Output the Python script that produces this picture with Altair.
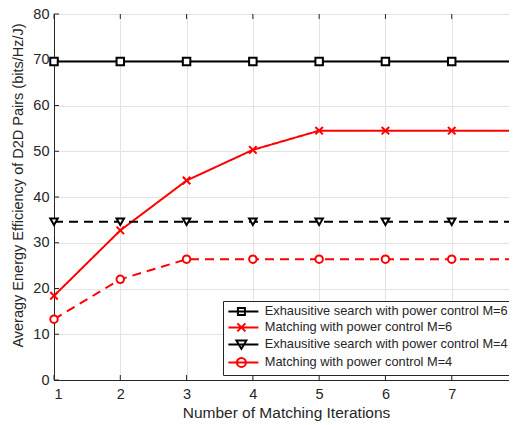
import altair as alt
import pandas as pd

iterations = [1, 2, 3, 4, 5, 6, 7, 8]
exh_m6 = [69.6, 69.6, 69.6, 69.6, 69.6, 69.6, 69.6, 69.6]
match_m6 = [18.4, 32.7, 43.6, 50.3, 54.5, 54.5, 54.5, 54.5]
exh_m4 = [34.6, 34.6, 34.6, 34.6, 34.6, 34.6, 34.6, 34.6]
match_m4 = [13.3, 22.0, 26.4, 26.4, 26.4, 26.4, 26.4, 26.4]

series_names = [
    "Exhausitive search with power control M=6",
    "Matching with power control M=6",
    "Exhausitive search with power control M=4",
    "Matching with power control M=4",
]
series_colors = ["#000000", "#ff0000", "#000000", "#ff0000"]
series_dash = [[1, 0], [1, 0], [9, 6], [9, 6]]

x_ticks = [1, 2, 3, 4, 5, 6, 7, 8]
y_ticks = [0, 10, 20, 30, 40, 50, 60, 70, 80]

rows = []
for name, vals in zip(series_names, [exh_m6, match_m6, exh_m4, match_m4]):
    for xv, yv in zip(iterations, vals):
        rows.append({"x": xv, "y": yv, "series": name})
df = pd.DataFrame(rows)

W, H = 464, 366
FONT = "Liberation Sans"
INK = "#262626"

xs = alt.Scale(domain=[1, 8], nice=False)
ys = alt.Scale(domain=[0, 80], nice=False)

color_scale = alt.Scale(domain=series_names, range=series_colors)

plot_shapes = [
    "square",
    "M-1,-1L1,1M-1,1L1,-1",
    "triangle-down",
    "circle",
]

# legend symbol = short line + marker; units scaled by sqrt(symbolSize)/2 = 5 px
def legend_path(marker):
    return "M-1,0H5" + marker

xm = 1.6
leg_shapes = [
    legend_path(f"M{xm-0.7:.3f},-0.7H{xm+0.7:.3f}V0.7H{xm-0.7:.3f}Z"),
    legend_path(f"M{xm-0.8:.3f},-0.8L{xm+0.8:.3f},0.8M{xm-0.8:.3f},0.8L{xm+0.8:.3f},-0.8"),
    legend_path(f"M{xm-1.0:.3f},-0.8L{xm+1.0:.3f},-0.8L{xm:.3f},0.9Z"),
    legend_path(f"M{xm-0.9:.3f},0A0.9,0.9 0 1,0 {xm+0.9:.3f},0A0.9,0.9 0 1,0 {xm-0.9:.3f},0Z"),
]

xaxis = alt.Axis(values=x_ticks, format="d", grid=True, ticks=False,
                 labelPadding=7, title="Number of Matching Iterations",
                 titlePadding=5)
yaxis = alt.Axis(values=y_ticks, grid=True, ticks=False, labelPadding=5,
                 title="Averagy Energy Efficiency of D2D Pairs (bits/Hz/J)",
                 titlePadding=7, titleY=171)

base = alt.Chart(df)

lines = base.mark_line(strokeWidth=2).encode(
    x=alt.X("x:Q", scale=xs, axis=xaxis),
    y=alt.Y("y:Q", scale=ys, axis=yaxis),
    color=alt.Color("series:N", scale=color_scale, legend=None),
    strokeDash=alt.StrokeDash("series:N",
                              scale=alt.Scale(domain=series_names, range=series_dash),
                              legend=None),
)

points = base.mark_point(filled=False, fill="white", strokeWidth=2, size=56, opacity=1).encode(
    x=alt.X("x:Q", scale=xs),
    y=alt.Y("y:Q", scale=ys),
    color=alt.Color("series:N", scale=color_scale, legend=None),
    shape=alt.Shape("series:N", scale=alt.Scale(domain=series_names, range=plot_shapes),
                    legend=None),
)

legend_layer = base.transform_filter("false").mark_point(
    filled=False, fill="white", strokeWidth=2, opacity=1
).encode(
    color=alt.Color("series:N", scale=alt.Scale(domain=series_names, range=series_colors),
                    legend=alt.Legend(title=None)),
    shape=alt.Shape("series:N", scale=alt.Scale(domain=series_names, range=leg_shapes),
                    legend=alt.Legend(title=None)),
)

xt_df = pd.DataFrame({"x": x_ticks})
yt_df = pd.DataFrame({"y": y_ticks})
tick_bottom = alt.Chart(xt_df).mark_rule(color=INK, strokeWidth=1).encode(
    x=alt.X("x:Q", scale=xs), y=alt.value(H), y2=alt.value(H - 5))
tick_top = alt.Chart(xt_df).mark_rule(color=INK, strokeWidth=1).encode(
    x=alt.X("x:Q", scale=xs), y=alt.value(0), y2=alt.value(5))
tick_left = alt.Chart(yt_df).mark_rule(color=INK, strokeWidth=1).encode(
    y=alt.Y("y:Q", scale=ys), x=alt.value(0), x2=alt.value(5))
tick_right = alt.Chart(yt_df).mark_rule(color=INK, strokeWidth=1).encode(
    y=alt.Y("y:Q", scale=ys), x=alt.value(W), x2=alt.value(W - 5))

chart = alt.layer(
    tick_bottom, tick_top, tick_left, tick_right, lines, points, legend_layer
).resolve_scale(
    shape="independent", color="independent", strokeDash="independent"
).properties(
    width=W, height=H,
    autosize=alt.AutoSizeParams(type="none"),
    padding={"left": 46, "top": 6, "right": -9, "bottom": 44},
).configure(
    font=FONT,
).configure_view(
    stroke=INK, strokeWidth=1,
).configure_axis(
    domainColor=INK, domainWidth=1,
    gridColor="#e3e3e3", gridWidth=1,
    labelFont=FONT, labelFontSize=14.5, labelColor=INK,
    titleFont=FONT, titleFontWeight="normal", titleColor=INK,
).configure_axisX(
    titleFontSize=15.5,
).configure_axisY(
    titleFontSize=14.5,
).configure_legend(
    orient="none", legendX=169, legendY=287,
    padding=4, strokeColor=INK, fillColor="white",
    labelFont=FONT, labelFontSize=12.8, labelColor=INK, labelLimit=0,
    labelOffset=25, symbolSize=100, symbolStrokeWidth=2,
    rowPadding=0, symbolFillColor="white", cornerRadius=0,
)

chart.save("out.html", embed_options={"renderer": "svg", "actions": False})
